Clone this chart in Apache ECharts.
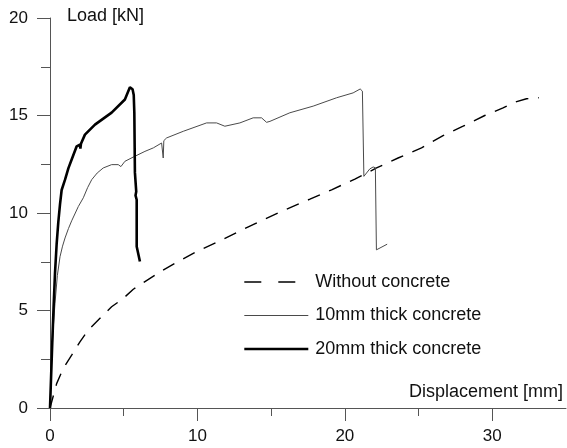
<!DOCTYPE html>
<html>
<head>
<meta charset="utf-8">
<script src="https://cdn.jsdelivr.net/npm/echarts@6/dist/echarts.min.js"></script>
<style>html,body{margin:0;padding:0;background:#fff}#c{width:567px;height:448px}</style>
</head>
<body>
<div id="c"></div>
<script>
var seriesNames = ['Without concrete', '10mm thick concrete', '20mm thick concrete'];
var xTickLabels = [0, 10, 20, 30];
var xMinorTicks = [5, 15, 25];
var yTickLabels = [0, 5, 10, 15, 20];

var withoutConcrete = [
  [0,0],[0.45,1.25],[0.90,2.03],[1.47,2.71],[2.03,3.39],[2.60,4.00],[3.39,4.60],[4.18,5.19],
  [4.97,5.62],[5.65,6.09],[6.44,6.48],[7.57,7.03],[8.47,7.42],[9.95,8.02],[11.41,8.53],
  [12.88,9.08],[14.46,9.65],[16.05,10.20],[17.63,10.71],[19.10,11.19],[20.68,11.74],
  [22.15,12.31],[23.61,12.82],[25.20,13.34],[26.66,13.97],[28.02,14.45],[29.49,15.00],
  [30.73,15.39],[31.53,15.68],[32.32,15.86],[33.17,15.91]
];
var concrete10 = [
  [0,0],[0.12,2.62],[0.22,4.10],[0.34,5.38],[0.50,6.80],[0.68,7.76],[0.85,8.30],[1.02,8.72],[1.25,9.20],[1.47,9.60],[1.92,10.33],[2.26,10.78],
  [2.55,11.30],[2.83,11.71],[3.20,12.05],[3.61,12.31],[4.18,12.48],[4.63,12.48],[4.81,12.38],[5.08,12.65],[5.65,12.87],
  [6.44,13.16],[7.01,13.34],[7.57,13.59],[7.68,13.68],[7.68,12.82],[7.72,13.71],[7.91,13.85],
  [9.04,14.19],[10.62,14.62],[11.30,14.62],[11.86,14.45],[12.88,14.62],[13.78,14.88],
  [14.35,14.88],[14.69,14.65],[14.92,14.70],[16.27,15.14],[17.85,15.48],[19.44,15.91],
  [20.56,16.16],[21.04,16.36],[21.19,16.25],[21.29,11.88],[21.36,11.79],[21.69,12.26],
  [21.92,12.36],[22.07,12.32],[22.14,8.11],[22.26,8.07],[22.87,8.40]
];
var concrete20 = [
  [0,0],[0.16,3.48],[0.25,5.30],[0.34,6.93],[0.45,8.40],[0.56,9.50],[0.68,10.45],[0.79,11.18],[1.02,11.71],[1.25,12.30],[1.47,12.74],[1.81,13.42],
  [2.03,13.51],[2.06,13.30],[2.10,13.55],[2.37,14.02],[3.05,14.53],[4.18,15.15],[5.08,15.82],
  [5.42,16.45],[5.60,16.35],[5.68,16.05],[5.72,15.15],[5.76,12.07],[5.80,12.00],[5.85,11.10],[5.80,10.90],
  [5.88,10.68],[5.88,8.28],[5.99,8.21],[6.10,7.51]
];

var FONT = 'Liberation Sans, Arial, sans-serif';
var AXIS = '#555';
var chart = echarts.init(document.getElementById('c'), null, {renderer: 'canvas'});
chart.setOption({
  animation: false,
  backgroundColor: '#fff',
  grid: {left: 50, top: 18, right: 1, bottom: 40, containLabel: false},
  xAxis: [{
    type: 'value', min: 0, max: 35,
    axisLine: {lineStyle: {color: AXIS, width: 1}},
    axisTick: {customValues: xTickLabels, length: 13, lineStyle: {color: AXIS}},
    axisLabel: {customValues: xTickLabels, fontSize: 17, fontFamily: FONT, color: '#111', margin: 20},
    splitLine: {show: false}
  }, {
    type: 'value', min: 0, max: 35, position: 'bottom',
    axisLine: {show: false},
    axisTick: {customValues: xMinorTicks, length: 8, lineStyle: {color: AXIS}},
    axisLabel: {show: false},
    splitLine: {show: false}
  }],
  yAxis: {
    type: 'value', min: 0, max: 20, interval: 5,
    axisLine: {show: true, lineStyle: {color: AXIS, width: 1}},
    axisTick: {show: true, length: 13, lineStyle: {color: AXIS}},
    minorTick: {show: true, splitNumber: 2, length: 9, lineStyle: {color: AXIS}},
    axisLabel: {fontSize: 17, fontFamily: FONT, color: '#111', margin: 22},
    splitLine: {show: false}
  },
  legend: {
    show: true,
    orient: 'vertical', left: 243, top: 273, padding: 0,
    itemWidth: 64, itemHeight: 18, itemGap: 15.5,
    itemStyle: {opacity: 0},
    textStyle: {fontSize: 18, fontFamily: FONT, color: '#111', padding: [0, 0, 0, 2]},
    data: [
      {name: seriesNames[0], lineStyle: {type: [17, 17], width: 1.4, color: '#000'}},
      {name: seriesNames[1], lineStyle: {width: 1, color: '#4a4a4a'}},
      {name: seriesNames[2], lineStyle: {width: 2.6, color: '#000'}}
    ]
  },
  series: [
    {name: seriesNames[0], type: 'line', xAxisIndex: 0, data: withoutConcrete, symbol: 'none',
     lineStyle: {color: '#000', width: 1.4, type: [13, 10]}, itemStyle: {color: '#000'}},
    {name: seriesNames[1], type: 'line', xAxisIndex: 0, data: concrete10, symbol: 'none',
     lineStyle: {color: '#4a4a4a', width: 1}, itemStyle: {color: '#4a4a4a'}},
    {name: seriesNames[2], type: 'line', xAxisIndex: 0, data: concrete20, symbol: 'none',
     lineStyle: {color: '#000', width: 2.6}, itemStyle: {color: '#000'}}
  ],
  graphic: [
    {type: 'text', left: 67, top: 7, style: {text: 'Load [kN]', fontSize: 18, fontFamily: FONT, fill: '#111'}},
    {type: 'text', right: 4, top: 383, style: {text: 'Displacement [mm]', fontSize: 18, fontFamily: FONT, fill: '#111'}}
  ]
});
</script>
</body>
</html>
